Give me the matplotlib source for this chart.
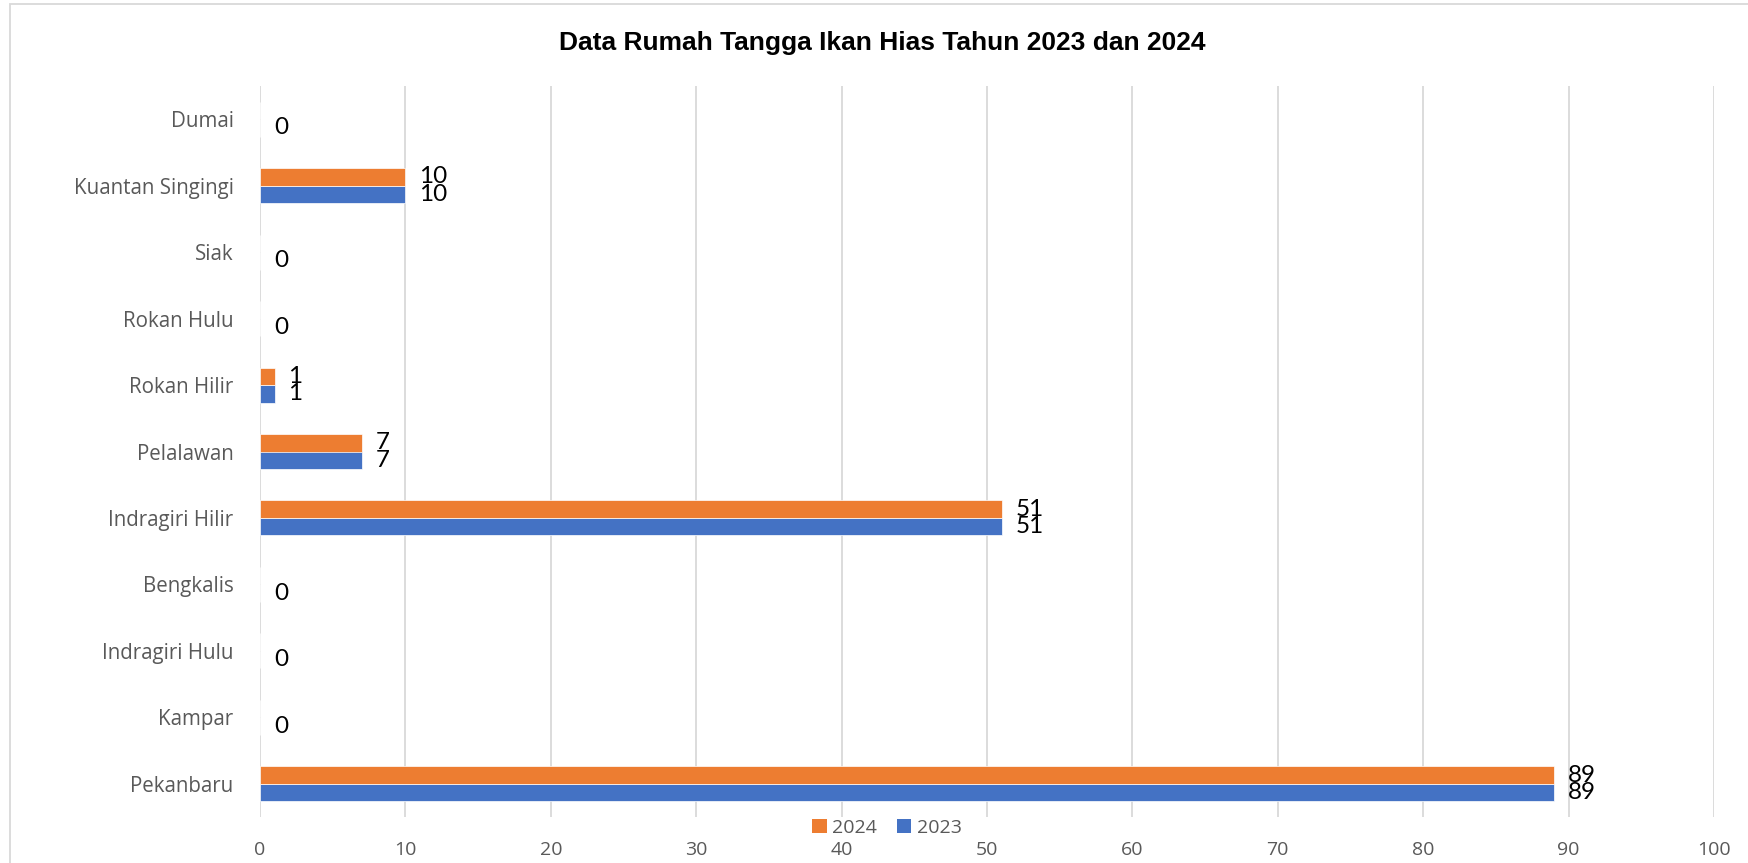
import matplotlib
matplotlib.use("Agg")
import matplotlib.pyplot as plt
from matplotlib.patches import Patch, Rectangle
import numpy as np

categories = ["Pekanbaru", "Kampar", "Indragiri Hulu", "Bengkalis", "Indragiri Hilir",
              "Pelalawan", "Rokan Hilir", "Rokan Hulu", "Siak", "Kuantan Singingi", "Dumai"]
values_2023 = [89, 0, 0, 0, 51, 7, 1, 0, 0, 10, 0]
values_2024 = [89, 0, 0, 0, 51, 7, 1, 0, 0, 10, 0]
x_ticks = [0, 10, 20, 30, 40, 50, 60, 70, 80, 90, 100]
title = "Data Rumah Tangga Ikan Hias Tahun 2023 dan 2024"

C23 = "#4472C4"
C24 = "#ED7D31"
GRID = "#D9D9D9"
TXT = "#595959"

W, H = 1749, 863
fig = plt.figure(figsize=(W / 100, H / 100), dpi=100)
fig.patch.set_facecolor("white")

# chart border (cropped chart area)
fig.add_artist(Rectangle((10 / W, -0.1), 1.2, 1 - 4 / H + 0.1, transform=fig.transFigure,
                         fill=False, edgecolor=GRID, linewidth=1.3))

ax = fig.add_axes([260 / W, 1 - 817 / H, (1714 - 260) / W, (817 - 86) / H])
y = np.arange(len(categories))
h = 0.263
ax.barh(y - h / 2, values_2023, height=h, color=C23, edgecolor="white", linewidth=0.5, zorder=3)
ax.barh(y + h / 2, values_2024, height=h, color=C24, edgecolor="white", linewidth=0.5, zorder=3)

lab_font = dict(family=["Lato", "DejaVu Sans"], fontsize=17.5, color="black")
for i, (a, b) in enumerate(zip(values_2023, values_2024)):
    ax.annotate(str(a), (a, i - h / 2), xytext=(14, 0), textcoords="offset pixels",
                va="center", ha="left", zorder=4, **lab_font)
    if b != 0:
        ax.annotate(str(b), (b, i + h / 2), xytext=(14, 0), textcoords="offset pixels",
                    va="center", ha="left", zorder=4, **lab_font)

ax.set_xlim(0, 100)
ax.set_ylim(-0.5, len(categories) - 0.5)
ax.set_xticks(x_ticks)
ax.set_yticks(y)
ax.set_yticklabels(categories)
ax.xaxis.grid(True, color=GRID, linewidth=1.3, zorder=0)
ax.set_axisbelow(True)
for s in ax.spines.values():
    s.set_visible(False)
ax.tick_params(axis="both", length=0)
ax.tick_params(axis="x", pad=17)
ax.tick_params(axis="y", pad=19)
for t in ax.get_xticklabels():
    t.set_fontfamily(["Open Sans", "DejaVu Sans"])
    t.set_fontsize(14)
    t.set_color(TXT)
for t in ax.get_yticklabels():
    t.set_fontfamily(["Open Sans", "DejaVu Sans"])
    t.set_fontsize(14.8)
    t.set_color(TXT)

fig.text(882 / W, 1 - 43 / H, title, ha="center", va="center",
         family=["Liberation Sans", "DejaVu Sans"], fontweight="bold", fontsize=19, color="black")

handles = [Patch(facecolor=C24, edgecolor="none", label="2024"),
           Patch(facecolor=C23, edgecolor="none", label="2023")]
fig.legend(handles=handles, loc="center", bbox_to_anchor=(887 / W, 1 - 828 / H), ncol=2,
           frameon=False, handlelength=0.75, handleheight=0.75, handletextpad=0.3, columnspacing=1.0,
           prop={"family": ["Open Sans", "DejaVu Sans"], "size": 14}, labelcolor=TXT,
           borderpad=0, borderaxespad=0)

fig.savefig("out.png", dpi=100)
